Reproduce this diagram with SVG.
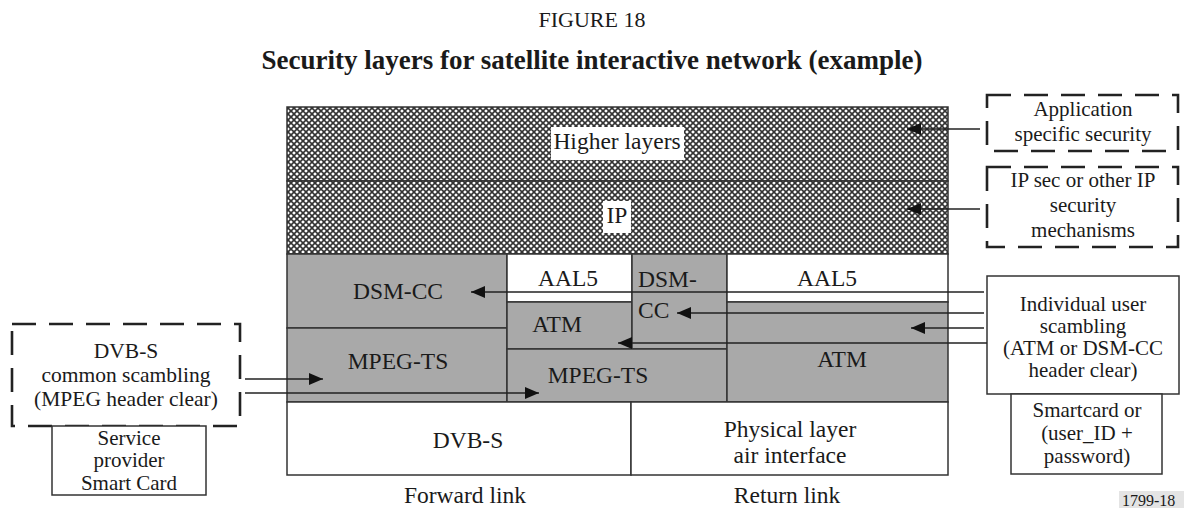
<svg xmlns="http://www.w3.org/2000/svg" width="1184" height="508" viewBox="0 0 1184 508">
<style>
text{font-family:"Liberation Serif","Times New Roman",serif;font-size:23.5px;fill:#1a1a1a;text-anchor:middle}
.b{font-weight:bold;font-size:27px}
.s{font-size:21px}
.m{font-size:21.5px}
.l{text-anchor:start}
.box{stroke:#333;stroke-width:1.5}
.gray{fill:#a9a9a9}
.white{fill:#fff}
.dash{fill:#fff;stroke:#222;stroke-width:2.6;stroke-dasharray:24 13}
.conn{stroke:#222;stroke-width:1.4;fill:none}
</style>
<defs>
<pattern id="hatch" patternUnits="userSpaceOnUse" width="6" height="6">
<rect width="6" height="6" fill="#fff"/>
<path d="M0,0 L6,6 M6,0 L0,6" stroke="#333" stroke-width="1.6"/>
</pattern>
<marker id="ah" markerUnits="userSpaceOnUse" markerWidth="15" markerHeight="12" refX="14" refY="6" orient="auto">
<path d="M0,0 L14,6 L0,12 Z" fill="#111"/>
</marker>
</defs>
<rect width="1184" height="508" fill="#fff"/>
<text x="592" y="27" style="font-size:22px">FIGURE 18</text>
<text x="592" y="69" class="b">Security layers for satellite interactive network (example)</text>

<g id="higher-layers">
<rect x="287" y="107" width="661" height="74" fill="url(#hatch)" class="box"/>
<rect x="551" y="127" width="133" height="33" fill="#fff"/>
<text x="617" y="149">Higher layers</text>
</g>
<g id="ip">
<rect x="287" y="181" width="661" height="73" fill="url(#hatch)" class="box"/>
<rect x="603" y="201" width="28" height="32" fill="#fff"/>
<text x="617" y="223">IP</text>
</g>
<g id="dsmcc-fwd">
<rect x="287" y="254" width="220" height="74" class="box gray"/>
<text x="398" y="299">DSM-CC</text>
</g>
<g id="mpegts-fwd">
<rect x="287" y="328" width="220" height="74" class="box gray"/>
<text x="398" y="369">MPEG-TS</text>
</g>
<g id="aal5-mid">
<rect x="507" y="254" width="125" height="48" class="box white"/>
<text x="568" y="286">AAL5</text>
</g>
<g id="atm-mid">
<rect x="507" y="302" width="125" height="47" class="box gray"/>
<text x="557" y="332">ATM</text>
</g>
<g id="dsmcc-ret">
<rect x="632" y="254" width="95" height="95" class="box gray"/>
<text x="638" y="287" class="l">DSM-</text>
<text x="638" y="318" class="l">CC</text>
</g>
<g id="mpegts-mid">
<rect x="507" y="349" width="220" height="53" class="box gray"/>
<text x="598" y="383">MPEG-TS</text>
</g>
<g id="aal5-ret">
<rect x="727" y="254" width="221" height="48" class="box white"/>
<text x="827" y="286">AAL5</text>
</g>
<g id="atm-ret">
<rect x="727" y="302" width="221" height="100" class="box gray"/>
<text x="842" y="367">ATM</text>
</g>
<g id="dvbs">
<rect x="287" y="402" width="344" height="73" class="box white"/>
<text x="468" y="448">DVB-S</text>
</g>
<g id="physical">
<rect x="631" y="402" width="317" height="73" class="box white"/>
<text x="790" y="437">Physical layer</text>
<text x="790" y="463">air interface</text>
</g>
<g id="app-security">
<rect x="987" y="95" width="191" height="56" class="dash"/>
<text x="1083" y="116" class="s">Application</text>
<text x="1083" y="141" class="s">specific security</text>
</g>
<g id="ipsec">
<rect x="987" y="167" width="191" height="80" class="dash"/>
<text x="1083" y="187" class="s">IP sec or other IP</text>
<text x="1083" y="212" class="s">security</text>
<text x="1083" y="237" class="s">mechanisms</text>
</g>
<g id="individual">
<rect x="987" y="276" width="192" height="118" class="box white"/>
<text x="1083" y="311" class="s">Individual user</text>
<text x="1083" y="333" class="s">scambling</text>
<text x="1083" y="355" class="s">(ATM or DSM-CC</text>
<text x="1083" y="377" class="s">header clear)</text>
</g>
<g id="smartcard">
<rect x="1011" y="394" width="151" height="80" class="box white"/>
<text x="1087" y="417" class="s">Smartcard or</text>
<text x="1087" y="440" class="s">(user_ID +</text>
<text x="1087" y="463" class="s">password)</text>
</g>
<g id="dvbs-common">
<rect x="12" y="324" width="228" height="102" class="dash"/>
<text x="126" y="358" class="m">DVB-S</text>
<text x="126" y="382" class="m">common scambling</text>
<text x="126" y="406" class="m">(MPEG header clear)</text>
</g>
<g id="service-provider">
<rect x="52" y="426" width="154" height="69" class="box white"/>
<text x="129" y="445" class="s">Service</text>
<text x="129" y="467" class="s">provider</text>
<text x="129" y="490" class="s">Smart Card</text>
</g>
<g id="connectors">
<line x1="980" y1="129" x2="907" y2="129" class="conn" marker-end="url(#ah)"/>
<line x1="980" y1="209" x2="907" y2="209" class="conn" marker-end="url(#ah)"/>
<line x1="984" y1="292" x2="471" y2="292" class="conn" marker-end="url(#ah)"/>
<line x1="984" y1="313" x2="677" y2="313" class="conn" marker-end="url(#ah)"/>
<line x1="984" y1="328" x2="911" y2="328" class="conn" marker-end="url(#ah)"/>
<line x1="987" y1="343" x2="618" y2="343" class="conn" marker-end="url(#ah)"/>
<line x1="245" y1="379" x2="323" y2="379" class="conn" marker-end="url(#ah)"/>
<line x1="245" y1="393" x2="539" y2="393" class="conn" marker-end="url(#ah)"/>
</g>
<text x="465" y="503">Forward link</text>
<text x="787" y="503">Return link</text>
<rect x="1119" y="491" width="65" height="17" fill="#e4e4e4"/>
<text x="1122" y="506" class="l" style="font-size:16px">1799-18</text>
</svg>
